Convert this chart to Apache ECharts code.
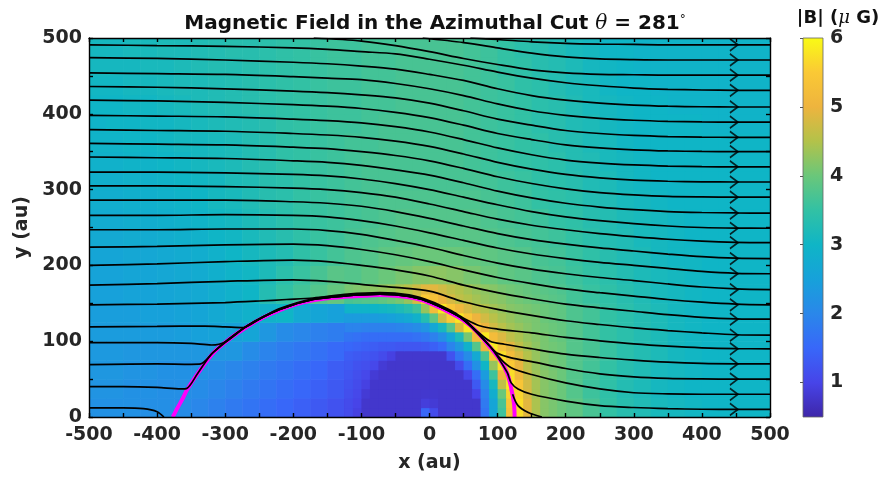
<!DOCTYPE html>
<html><head><meta charset="utf-8">
<script src="https://cdn.jsdelivr.net/npm/echarts@6/dist/echarts.min.js"></script>
<style>html,body{margin:0;padding:0;background:#fff}#c{width:879px;height:479px}</style>
</head><body><div id="c"></div>
<script>
// ---------- field |B| on a 25 au grid (cell centres) ----------
const xCenters = [-487.5,-462.5,-437.5,-412.5,-387.5,-362.5,-337.5,-312.5,-287.5,-262.5,-237.5,-212.5,-187.5,-162.5,-137.5,-112.5,-87.5,-62.5,-37.5,-12.5,12.5,37.5,62.5,87.5,112.5,137.5,162.5,187.5,212.5,237.5,262.5,287.5,312.5,337.5,362.5,387.5,412.5,437.5,462.5,487.5];
const yCenters = [12.5,37.5,62.5,87.5,112.5,137.5,162.5,187.5,212.5,237.5,262.5,287.5,312.5,337.5,362.5,387.5,412.5,437.5,462.5,487.5];
const row_012 = [2.2,2.2,2.2,2.15,2.15, 2.1,2.0,1.9,1.8,1.7, 1.6,1.5,1.4,1.3,1.2, 0.95,0.85,0.85,0.85,0.95, 0.95,0.85,0.9,2.2,4.8, 5.6,4.6,4.1,3.9,3.7, 3.5,3.35,3.25,3.15,3.1, 3.05,3.0,3.0,3.0,3.0];
const row_037 = [2.25,2.25,2.2,2.2,2.15, 2.15,2.1,2.0,1.9,1.8, 1.7,1.6,1.5,1.4,1.3, 1.05,0.85,0.85,0.85,0.85, 0.85,0.85,1.0,2.7,5.3, 5.2,4.4,4.0,3.8,3.6, 3.45,3.3,3.2,3.1,3.05, 3.0,3.0,3.0,3.0,3.0];
const row_062 = [2.3,2.3,2.25,2.25,2.2, 2.2,2.2,2.1,2.0,1.9, 1.8,1.7,1.6,1.5,1.35, 1.15,1.1,0.85,0.85,0.85, 0.85,0.9,2.0,3.6,5.6, 4.9,4.3,4.0,3.8,3.65, 3.5,3.35,3.25,3.15,3.1, 3.05,3.0,3.0,3.0,3.0];
const row_087 = [2.35,2.35,2.3,2.3,2.3, 2.3,2.3,2.3,2.3,2.1, 1.95,1.85,1.75,1.65,1.55, 1.3,1.25,1.15,1.05,1.05, 1.2,1.8,2.8,5.2,5.3, 4.6,4.2,4.0,3.8,3.7, 3.55,3.4,3.3,3.2,3.1, 3.05,3.0,3.0,3.0,3.0];
const row_112 = [2.4,2.4,2.4,2.4,2.4, 2.45,2.5,2.55,2.5,2.6, 2.3,2.1,2.0,1.9,1.85, 1.6,1.55,1.55,1.6,1.8, 2.2,2.8,5.2,5.3,4.7, 4.3,4.1,3.9,3.8,3.65, 3.5,3.4,3.3,3.2,3.1, 3.05,3.0,3.0,3.0,3.0];
const row_137 = [2.45,2.45,2.45,2.5,2.5, 2.55,2.6,2.7,2.8,2.9, 2.9,3.0,2.7,2.6,2.5, 2.3,2.4,2.6,2.8,3.2, 4.2,5.3,4.9,4.5,4.3, 4.1,3.95,3.85,3.75,3.65, 3.5,3.4,3.3,3.2,3.1, 3.05,3.0,3.0,3.0,3.0];
const row_162 = [2.5,2.5,2.55,2.55,2.6, 2.65,2.7,2.8,2.9,3.0, 3.3,3.5,3.65,3.8,3.95, 3.8,3.9,4.0,4.2,4.5, 4.8,4.6,4.4,4.2,4.0, 3.9,3.8,3.7,3.65,3.55, 3.45,3.35,3.25,3.15,3.1, 3.05,3.0,3.0,3.0,3.0];
const row_187 = [2.55,2.55,2.6,2.6,2.65, 2.7,2.75,2.85,2.95,3.05, 3.2,3.4,3.55,3.7,3.85, 3.8,3.9,4.0,4.1,4.2, 4.25,4.2,4.1,4.0,3.9, 3.85,3.75,3.7,3.6,3.5, 3.4,3.3,3.2,3.15,3.1, 3.05,3.0,3.0,3.0,3.0];
const row_212 = [2.6,2.6,2.65,2.65,2.7, 2.75,2.8,2.9,3.0,3.1, 3.2,3.3,3.45,3.55,3.65, 3.75,3.8,3.9,3.95,4.0, 4.0,4.0,3.95,3.9,3.85, 3.8,3.7,3.65,3.55,3.45, 3.35,3.25,3.2,3.1,3.05, 3.05,3.0,3.0,3.0,3.0];
const row_237 = [2.7,2.7,2.75,2.75,2.8, 2.85,2.9,3.0,3.05,3.15, 3.25,3.35,3.45,3.55,3.6, 3.7,3.75,3.8,3.85,3.85, 3.85,3.85,3.85,3.8,3.75, 3.7,3.65,3.6,3.5,3.4, 3.3,3.25,3.15,3.1,3.05, 3.0,3.0,3.0,3.0,3.0];
const row_262 = [2.75,2.75,2.8,2.8,2.85, 2.9,2.95,3.05,3.1,3.2, 3.3,3.4,3.5,3.55,3.6, 3.65,3.7,3.75,3.8,3.8, 3.8,3.8,3.8,3.75,3.7, 3.65,3.6,3.5,3.45,3.35, 3.3,3.2,3.15,3.1,3.05, 3.0,3.0,3.0,3.0,3.0];
const row_287 = [2.8,2.8,2.85,2.85,2.9, 2.95,3.0,3.1,3.15,3.25, 3.35,3.4,3.5,3.55,3.6, 3.65,3.7,3.75,3.75,3.75, 3.75,3.75,3.75,3.7,3.65, 3.6,3.5,3.45,3.4,3.3, 3.25,3.15,3.1,3.05,3.0, 3.0,3.0,3.0,3.0,3.0];
const row_312 = [2.85,2.85,2.9,2.9,2.95, 3.0,3.05,3.1,3.2,3.25, 3.35,3.4,3.5,3.55,3.6, 3.65,3.7,3.7,3.7,3.7, 3.7,3.7,3.7,3.65,3.6, 3.55,3.45,3.4,3.35,3.25, 3.2,3.1,3.05,3.0,3.0, 3.0,3.0,3.0,3.0,3.0];
const row_337 = [2.9,2.9,2.95,2.95,3.0, 3.05,3.1,3.15,3.2,3.3, 3.35,3.45,3.5,3.55,3.6, 3.65,3.7,3.7,3.7,3.7, 3.7,3.7,3.65,3.6,3.55, 3.5,3.45,3.4,3.3,3.25, 3.15,3.1,3.05,3.0,3.0, 3.0,3.0,3.0,3.0,3.0];
const row_362 = [2.95,2.95,3.0,3.0,3.05, 3.1,3.1,3.15,3.2,3.3, 3.35,3.45,3.5,3.55,3.6, 3.65,3.65,3.7,3.7,3.7, 3.7,3.7,3.65,3.6,3.55, 3.5,3.45,3.35,3.3,3.2, 3.15,3.05,3.0,3.0,3.0, 3.0,3.0,3.0,3.0,3.0];
const row_387 = [2.95,3.0,3.0,3.05,3.05, 3.1,3.15,3.2,3.25,3.3, 3.35,3.45,3.5,3.55,3.6, 3.6,3.65,3.7,3.7,3.7, 3.7,3.7,3.65,3.6,3.55, 3.5,3.4,3.35,3.25,3.2, 3.1,3.05,3.0,3.0,3.0, 3.0,2.95,2.95,2.95,2.95];
const row_412 = [3.0,3.0,3.05,3.05,3.1, 3.15,3.2,3.25,3.3,3.35, 3.4,3.45,3.5,3.55,3.6, 3.6,3.65,3.65,3.7,3.7, 3.7,3.7,3.65,3.6,3.55, 3.5,3.4,3.35,3.25,3.15, 3.1,3.05,3.0,3.0,2.95, 2.95,2.95,2.95,2.95,2.95];
const row_437 = [3.05,3.05,3.1,3.1,3.15, 3.2,3.2,3.25,3.3,3.35, 3.4,3.45,3.5,3.55,3.6, 3.6,3.65,3.65,3.7,3.7, 3.7,3.7,3.65,3.6,3.55, 3.45,3.4,3.3,3.2,3.15, 3.05,3.0,3.0,2.95,2.95, 2.95,2.95,2.95,2.95,2.95];
const row_462 = [3.1,3.1,3.1,3.15,3.15, 3.2,3.25,3.3,3.3,3.35, 3.4,3.45,3.5,3.55,3.6, 3.6,3.65,3.65,3.7,3.7, 3.7,3.7,3.65,3.6,3.5, 3.45,3.35,3.3,3.2,3.1, 3.05,3.0,2.95,2.95,2.95, 2.95,2.95,2.95,2.95,2.95];
const row_487 = [3.1,3.1,3.15,3.15,3.2, 3.2,3.25,3.3,3.35,3.35, 3.4,3.45,3.5,3.55,3.6, 3.6,3.65,3.65,3.7,3.7, 3.7,3.7,3.65,3.6,3.5, 3.4,3.35,3.25,3.15,3.1, 3.0,3.0,2.95,2.95,2.95, 2.95,2.95,2.95,2.95,2.95];
const fieldRows = [row_012,row_037,row_062,row_087,row_112,row_137,row_162,row_187,row_212,row_237,row_262,row_287,row_312,row_337,row_362,row_387,row_412,row_437,row_462,row_487];

// ---------- finer 12.5 au grid around the inner cavity and the bright rim ----------
const fineX = [-118.75,-106.25,-93.75,-81.25,-68.75,-56.25,-43.75,-31.25,-18.75,-6.25,6.25,18.75,31.25,43.75,56.25,68.75,81.25,93.75,106.25,118.75,131.25,143.75,156.25,168.75,181.25,193.75];
const fineY = [6.25,18.75,31.25,43.75,56.25,68.75,81.25,93.75,106.25,118.75,131.25,143.75,156.25,168.75];
const fr_006 = [1.1,0.95,0.78,0.78,0.78,0.78,0.78,0.78,0.78,1.5,1.1,0.78,0.78,0.78,0.78,0.78,1.7,2.6,3.6,5.3,5.7,4.9,4.45,4.2,4.1,4.0];
const fr_018 = [1.1,1.0,0.78,0.78,0.78,0.78,0.78,0.78,0.78,0.9,0.85,0.78,0.78,0.78,0.78,0.78,1.8,2.6,3.7,5.4,5.7,4.9,4.45,4.2,4.1,4.0];
const fr_031 = [1.15,1.05,0.85,0.78,0.78,0.78,0.78,0.78,0.78,0.8,0.8,0.78,0.78,0.78,0.78,1.0,1.9,2.8,4.0,5.6,5.6,4.8,4.4,4.2,4.1,4.0];
const fr_043 = [1.2,1.1,0.95,0.78,0.78,0.78,0.78,0.78,0.78,0.78,0.78,0.78,0.78,0.78,0.78,1.3,2.1,3.1,4.6,5.8,5.4,4.75,4.4,4.2,4.1,4.0];
const fr_056 = [1.25,1.15,1.05,0.85,0.78,0.78,0.78,0.78,0.78,0.78,0.78,0.78,0.78,0.78,1.05,1.6,2.4,3.6,5.0,5.7,5.1,4.65,4.35,4.2,4.1,4.0];
const fr_068 = [1.3,1.2,1.15,1.05,0.85,0.78,0.78,0.78,0.78,0.78,0.78,0.78,0.78,1.1,1.6,2.2,3.0,4.3,5.7,5.5,4.95,4.55,4.3,4.15,4.05,4.0];
const fr_081 = [1.35,1.3,1.25,1.2,1.1,0.95,0.8,0.8,0.8,0.8,0.8,0.8,1.2,1.7,2.1,2.7,3.7,5.3,5.7,5.2,4.8,4.5,4.3,4.15,4.05,4.0];
const fr_093 = [1.5,1.45,1.4,1.35,1.3,1.3,1.25,1.25,1.25,1.3,1.4,1.55,1.95,2.3,2.9,3.8,5.0,5.8,5.3,4.9,4.6,4.4,4.25,4.1,4.05,4.0];
const fr_106 = [1.7,1.65,1.6,1.6,1.6,1.6,1.6,1.6,1.65,1.75,1.9,2.15,2.6,3.2,4.1,5.2,5.8,5.2,4.85,4.6,4.45,4.3,4.2,4.1,4.0,3.95];
const fr_118 = [1.95,1.95,1.9,1.9,1.9,1.9,1.95,2.0,2.1,2.25,2.65,3.1,3.8,4.8,5.8,5.5,5.0,4.75,4.55,4.4,4.3,4.2,4.1,4.05,4.0,3.95];
const fr_131 = [2.4,2.4,2.4,2.4,2.45,2.5,2.6,2.7,2.9,3.3,3.9,4.7,5.5,5.8,5.4,5.0,4.75,4.55,4.4,4.3,4.2,4.15,4.1,4.0,3.95,3.9];
const fr_143 = [2.95,2.95,2.95,3.0,3.05,3.1,3.2,3.35,3.6,4.3,5.2,5.8,5.4,5.1,4.8,4.6,4.5,4.4,4.3,4.2,4.15,4.1,4.05,4.0,3.95,3.9];
const fr_156 = [3.7,3.75,3.8,3.85,3.9,4.0,4.1,4.3,4.8,5.5,5.3,5.0,4.8,4.6,4.5,4.4,4.3,4.25,4.2,4.1,4.05,4.0,3.95,3.9,3.85,3.8];
const fr_168 = [4.1,4.15,4.2,4.25,4.3,4.35,4.45,4.55,4.7,4.9,4.9,4.75,4.6,4.5,4.4,4.3,4.25,4.2,4.1,4.05,4.0,3.95,3.9,3.85,3.8,3.75];
const fineRows = [fr_006,fr_018,fr_031,fr_043,fr_056,fr_068,fr_081,fr_093,fr_106,fr_118,fr_131,fr_143,fr_156,fr_168];

// ---------- colour bar ----------
const cbMin = 0.5, cbMax = 6;
const cbTicks = [1,2,3,4,5,6];
const PARULA = ['#3e26a8','#4744e8','#3867f9','#2a87ea','#17a1da','#0fb5c6','#32c1a4','#6ac77a','#b3c24a','#eeb43e','#fac935','#f9fb15'];

// ---------- axes ----------
const xTicks = {min:-500, max:500, step:50, labelStep:100};
const yTicks = {min:0, max:500, step:50, labelStep:100};

// ---------- boundary (magenta) ----------
const boundary = [[-377,0],[-370,12],[-362,25],[-356,36],[-340,58],[-318,84],[-295,102],[-268,119],[-245,131],[-220,141],[-195,149],[-171,154],[-145,157],[-120,159],[-95,160],[-73,161],[-50,160],[-30,158],[-10,154],[1,150],[25,140],[49,128],[70,112],[89,92],[103,76],[114,58],[120,38],[124,18],[125,0]];

// ---------- field lines starting at the left edge (y at stations) ----------
const stationsX = [-500,-400,-300,-200,-150,-100,-50,0,50,100,150,200,250,300,350,400,450,500];
const line01 = [491,490,489,487,485,482,479,472,464,455,447,441,437,434,432.3,431.4,431,431];
const line02 = [474,473,471,468,466,463,459,452,444,433,424,418,414,411.5,410,409.3,409,409];
const line03 = [454,453,452,449,447,445,440,433,424,413,404,398,394,391.5,390,389.3,389,389];
const line04 = [436,435,433,430,428,425,421,414,404,393,385,378,374,371.5,370,369.3,369,369];
const line05 = [418,417,415,412,410,407,402,395,385,374,366,359,355,352.5,351,350.3,350,350];
const line06 = [398,397,396,393,391,388,383,376,366,355,346,339,335,332.5,331,330.3,330,330];
const line07 = [379,378,377,374,372,369,364,357,347,336,327,320,315.5,312.5,311,310.3,310,310];
const line08 = [361,360,359,356,354,350,345,338,328,317,308,301,296,293,291,290.3,290,290];
const line09 = [343,342,341,338,336,332,326,319,309,298,289,282,277,273.5,271,269.8,269.2,269];
const line10 = [323,323,322,320,318,314,308,300,290,280,271,264,259,255,252,250,249.2,249];
const line11 = [305,305,304,302,300,296,290,281,271,261,253,247,242,238,234.5,232,230.5,230];
const line12 = [286,286,286,284,282,278,271,262,252,242,234,228,223,219,215,211.5,209.5,209];
const line13 = [266,266,267,266,264,259,252,243,233,223,215,209,204,200,196,192,189.5,189];
const line14 = [247,247,248,248,246,241,233,224,213,203,195,189,184,180,175.5,171.5,169,168];
const line15 = [224,225,227,228,226,221,214,205,194,184,176,169,164,159.5,155,151.5,149,148];
const line16 = [200,202,205,207,205,200,194,186,174,164,156,149,144,139.5,135,131.5,129.5,129];
const line17 = [174,176,179,181,179,175,171,166,152,142,134,127,122,117.5,114,111,108.5,108];
const stationLines = [line01,line02,line03,line04,line05,line06,line07,line08,line09,line10,line11,line12,line13,line14,line15,line16,line17];

// lines entering through the top edge
const topA = [[-170,500],[-100,496],[-50,490],[0,482],[50,473],[100,465],[150,458],[200,454],[250,452],[300,451.5],[350,451],[500,451]];
const topB = [[-10,500],[50,494],[100,487],[150,480],[200,475],[250,472.5],[300,471.5],[350,471],[500,471]];
const topC = [[60,500],[100,498],[150,495],[200,493],[250,492],[300,491.5],[350,491],[500,491]];
// lines draped along the boundary
const drape1 = [[-500,148],[-400,149],[-300,151],[-250,153],[-210,155],[-171,157],[-120,162],[-73,164],[-30,161],[1,153],[30,141],[55,128],[75,120],[100,116],[150,111],[200,105],[250,100.5],[300,96.5],[350,93.5],[400,91.3],[450,90.2],[500,90]];
const drape2 = [[-500,119],[-400,119.5],[-330,120],[-300,119],[-274,118],[-250,129],[-220,143],[-171,156],[-120,161],[-73,163],[-30,160],[1,152],[49,130],[70,113],[89,100],[110,96],[150,90],[200,83],[250,78.5],[300,75],[350,72.3],[400,70.7],[450,70.1],[500,70]];
const drape3 = [[-500,98],[-400,98],[-350,97],[-320,95],[-300,99],[-268,120],[-220,142],[-171,155],[-120,160],[-73,162],[-30,159],[1,151],[49,129],[89,93],[100,84],[120,78],[150,73],[200,64],[250,57],[300,53],[350,51],[400,50.3],[450,50],[500,50]];
const drape4 = [[-500,69],[-400,70],[-350,69.5],[-336,70],[-318,85],[-268,120],[-220,142],[-171,155],[-120,160],[-73,162],[-30,159],[1,151],[49,129],[89,93],[105,76],[120,65],[150,56],[200,45],[250,37],[300,32],[350,30.5],[400,30],[500,30]];
const drape5 = [[-500,40],[-450,40],[-400,39],[-365,37],[-356,38],[-340,58],[-318,85],[-268,120],[-220,142],[-171,155],[-120,160],[-73,162],[-30,159],[1,151],[49,129],[89,93],[114,59],[120,45],[130,37],[150,30],[200,21],[250,15],[300,12.5],[350,11],[400,10.2],[450,10],[500,10]];
const bottomLeft = [[-500,12],[-450,12],[-420,11],[-400,7],[-390,0]];
const bottomRight = [[122,30],[130,15],[145,6],[165,0]];

// arrowheads on the field lines
const arrowX = 447;
const arrowY = [10,30,50,70,90,108,129,148,168,189,209,230,249,269,290,310,330,350,369,389,409,431,451,471,491];

// ---------- build chart ----------
const chart = echarts.init(document.getElementById('c'));
const fieldData = [];
fieldRows.forEach((row, j) => row.forEach((v, i) => fieldData.push([xCenters[i], yCenters[j], v])));
const fineData = [];
fineRows.forEach((row, j) => row.forEach((v, i) => fineData.push([fineX[i], fineY[j], v])));
const FONT = 'DejaVu Sans';
const TXT = '#262626';
const AXL = {color:'#000', width:1.4};

const cellRenderer = size => (params, api) => {
  const x = api.value(0), y = api.value(1);
  const p1 = api.coord([x - size / 2, y + size / 2]);
  const p2 = api.coord([x + size / 2, y - size / 2]);
  return {type: 'rect', shape: {x: p1[0], y: p1[1], width: p2[0] - p1[0] + 0.6, height: p2[1] - p1[1] + 0.6},
          style: {fill: api.visual('color')}};
};

const streamSeries = [];
const addLine = pts => streamSeries.push({type:'line', xAxisIndex:0, yAxisIndex:0, data:pts, showSymbol:false, symbol:'none', smooth:0.3, silent:true, z:5, lineStyle:{color:'#000', width:1.7}});
stationLines.forEach(l => addLine(stationsX.map((x, k) => [x, l[k]])));
[topA, topB, topC, drape1, drape2, drape3, drape4, drape5, bottomLeft, bottomRight].forEach(addLine);

const labelFmt = step => v => (Math.round(v) % step === 0 ? String(Math.round(v)) : '');

const option = {
  animation: false,
  backgroundColor: '#fff',
  title: [
    {text: 'Magnetic Field in the Azimuthal Cut {th|θ} = 281{deg|°}', left: 430, top: 9, textAlign: 'center',
     textStyle: {fontFamily: FONT, fontWeight: 'bold', fontSize: 20, color: '#111',
       rich: {th: {fontFamily: 'DejaVu Serif', fontStyle: 'italic', fontWeight: 'normal', fontSize: 20, color: '#111'},
              deg: {fontFamily: FONT, fontSize: 12, fontWeight: 'normal', verticalAlign: 'top', color: '#111'}}}},
    {text: '|B| ({mu|μ} G)', left: 833, top: 4, textAlign: 'center',
     textStyle: {fontFamily: FONT, fontWeight: 'bold', fontSize: 18, color: '#111',
       rich: {mu: {fontFamily: 'DejaVu Serif', fontStyle: 'italic', fontWeight: 'normal', fontSize: 18, color: '#111'}}}}
  ],
  grid: [
    {left: 89, top: 38, width: 681, height: 379},
    {left: 803, top: 38, width: 20, height: 379}
  ],
  xAxis: [
    {gridIndex: 0, type: 'value', position: 'bottom', min: xTicks.min, max: xTicks.max, interval: xTicks.step, z: 10,
     axisLine: {onZero: false, lineStyle: AXL}, axisTick: {inside: true, length: 4, lineStyle: AXL}, splitLine: {show: false},
     axisLabel: {formatter: labelFmt(xTicks.labelStep), fontFamily: FONT, fontWeight: 'bold', fontSize: 19, color: TXT, margin: 9},
     name: 'x (au)', nameLocation: 'middle', nameGap: 37, nameTextStyle: {fontFamily: FONT, fontWeight: 'bold', fontSize: 19, color: TXT}},
    {gridIndex: 0, type: 'value', position: 'top', min: xTicks.min, max: xTicks.max, interval: xTicks.step, z: 10,
     axisLine: {onZero: false, lineStyle: AXL}, axisTick: {inside: true, length: 4, lineStyle: AXL}, splitLine: {show: false}, axisLabel: {show: false}},
    {gridIndex: 1, type: 'value', min: 0, max: 1, show: false}
  ],
  yAxis: [
    {gridIndex: 0, type: 'value', position: 'left', min: yTicks.min, max: yTicks.max, interval: yTicks.step, z: 10,
     axisLine: {onZero: false, lineStyle: AXL}, axisTick: {inside: true, length: 4, lineStyle: AXL}, splitLine: {show: false},
     axisLabel: {formatter: labelFmt(yTicks.labelStep), fontFamily: FONT, fontWeight: 'bold', fontSize: 19, color: TXT, margin: 7},
     name: 'y (au)', nameLocation: 'middle', nameGap: 54, nameTextStyle: {fontFamily: FONT, fontWeight: 'bold', fontSize: 19, color: TXT}},
    {gridIndex: 0, type: 'value', position: 'right', min: yTicks.min, max: yTicks.max, interval: yTicks.step, z: 10,
     axisLine: {onZero: false, lineStyle: AXL}, axisTick: {inside: true, length: 4, lineStyle: AXL}, splitLine: {show: false}, axisLabel: {show: false}},
    {gridIndex: 1, type: 'value', position: 'right', min: cbMin, max: cbMax, z: 10,
     axisLine: {show: false}, splitLine: {show: false},
     axisTick: {show: true, inside: true, length: 3, customValues: cbTicks, lineStyle: {color: '#555', width: 1}},
     axisLabel: {customValues: cbTicks, fontFamily: FONT, fontWeight: 'bold', fontSize: 19, color: TXT, margin: 7}}
  ],
  visualMap: {type: 'continuous', show: false, min: cbMin, max: cbMax, dimension: 2, seriesIndex: [0, 1], inRange: {color: PARULA}},
  series: [
    {type: 'custom', xAxisIndex: 0, yAxisIndex: 0, data: fieldData, encode: {x: 0, y: 1}, silent: true, z: 1, renderItem: cellRenderer(25)},
    {type: 'custom', xAxisIndex: 0, yAxisIndex: 0, data: fineData, encode: {x: 0, y: 1}, silent: true, z: 2, renderItem: cellRenderer(12.5)},
    {type: 'custom', xAxisIndex: 2, yAxisIndex: 2, data: [[0, cbMin, 1, cbMax]], encode: {x: 0, y: 1}, silent: true, z: 1,
     renderItem: (params, api) => {
       const p1 = api.coord([api.value(0), api.value(3)]);
       const p2 = api.coord([api.value(2), api.value(1)]);
       return {type: 'rect', shape: {x: p1[0], y: p1[1], width: p2[0] - p1[0], height: p2[1] - p1[1]},
               style: {fill: {type: 'linear', x: 0, y: 1, x2: 0, y2: 0,
                              colorStops: PARULA.map((c, i) => ({offset: i / (PARULA.length - 1), color: c}))},
                       stroke: '#666', lineWidth: 0.8}};
     }},
    {type: 'line', xAxisIndex: 0, yAxisIndex: 0, data: boundary, showSymbol: false, symbol: 'none', smooth: 0.3, silent: true, z: 4,
     lineStyle: {color: '#ff00ff', width: 4}},
    ...streamSeries,
    {type: 'scatter', xAxisIndex: 0, yAxisIndex: 0, data: arrowY.map(y => [arrowX, y]), silent: true, z: 6,
     symbol: 'path://M0,0L10,6L0,12', symbolSize: [8, 12],
     itemStyle: {color: 'none', borderColor: '#000', borderWidth: 1.6}}
  ]
};
chart.setOption(option);
</script>
</body></html>
